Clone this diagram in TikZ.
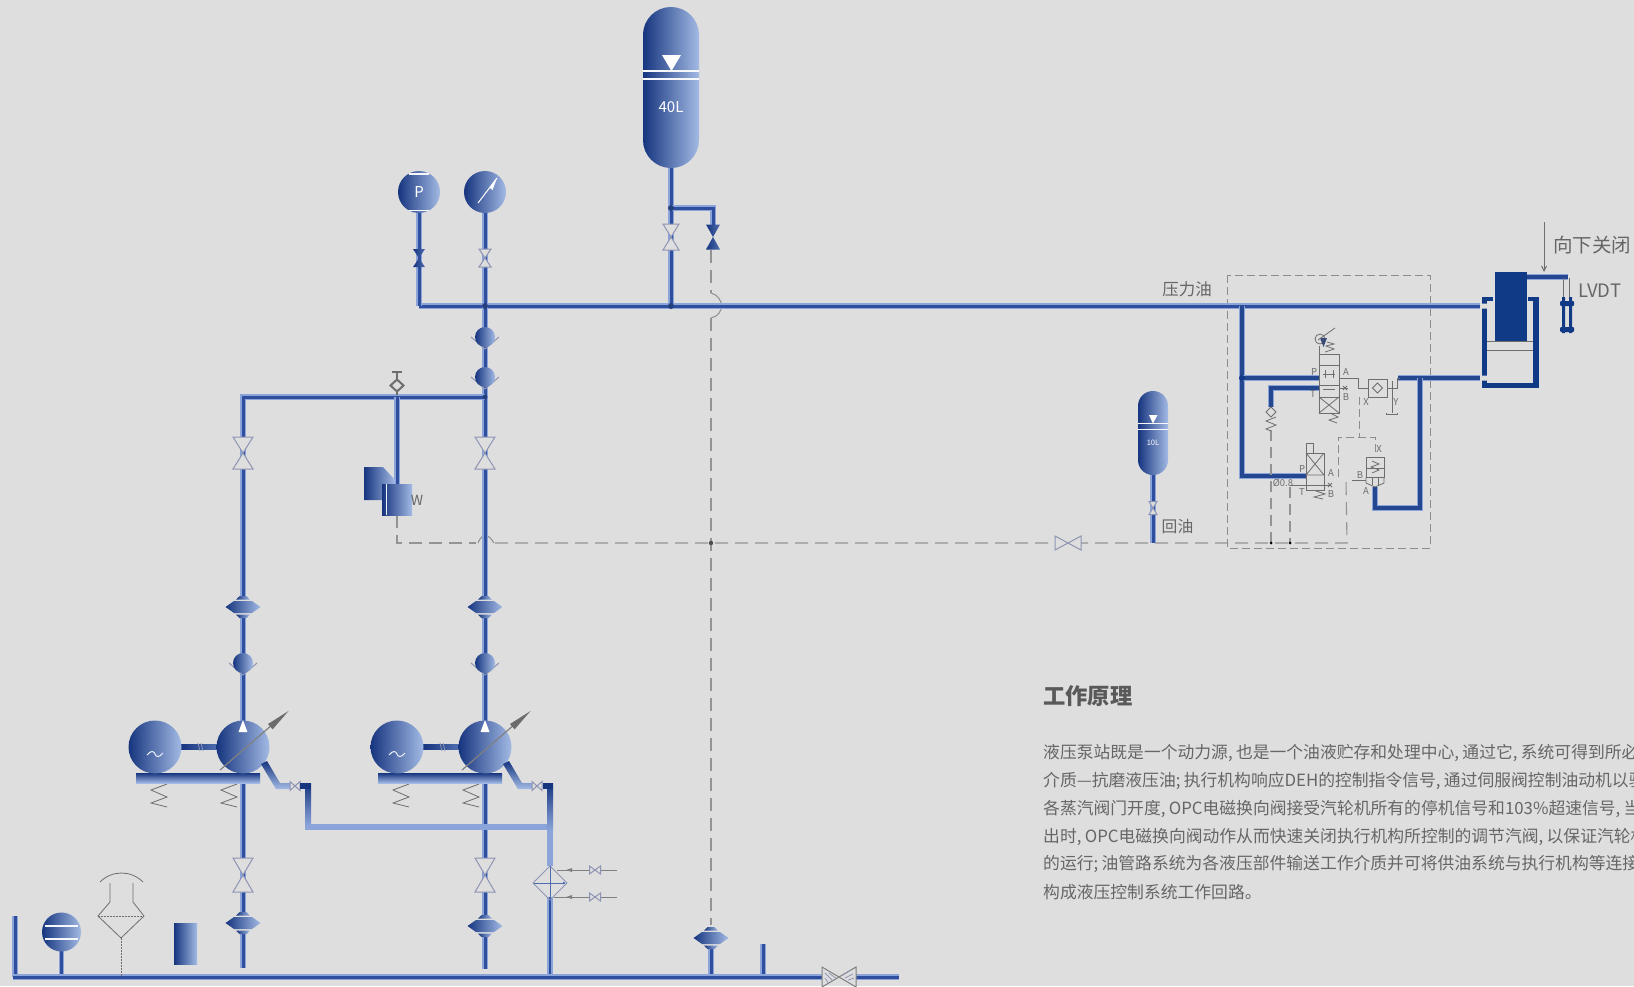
\documentclass[tikz,border=0pt]{standalone}
\usepackage{fontspec}
\usetikzlibrary{arrows.meta,calc}
\newfontfamily\cjk{Noto Sans CJK SC}
\definecolor{bgc}{HTML}{DEDEDE}
\definecolor{gD}{HTML}{16357F}
\definecolor{gM}{HTML}{4F6DAE}
\definecolor{gL}{HTML}{A3BAE4}
\definecolor{pipeD}{HTML}{2F4F9E}
\definecolor{pipeL}{HTML}{8BA4D9}
\definecolor{navy}{HTML}{103A86}
\definecolor{blockP}{HTML}{24478F}
\definecolor{vedge}{HTML}{8E95B4}
\definecolor{thin}{HTML}{6E6E6E}
\definecolor{txt}{HTML}{666666}
\tikzset{
  pipe/.style={preaction={draw=pipeL,line width=5.6pt},draw=pipeD,line width=3pt},
  dark pipe/.style={preaction={draw=pipeL,line width=6pt},draw=blockP,line width=3.6pt},
  dashline/.style={draw=gray!85,line width=1.1pt,dash pattern=on 13pt off 7pt},
  boxdash/.style={draw=gray!90,line width=0.9pt,dash pattern=on 8pt off 4pt},
  fine/.style={draw=thin,line width=0.8pt},
  edge/.style={draw=vedge,line width=1pt,fill=bgc},
  grad/.style={left color=gD,right color=gL},
  vgrad/.style={top color=gD,bottom color=gL},
  lab/.style={font=\cjk\fontsize{9.5}{11}\selectfont,text=thin,inner sep=0pt},
  body/.style={font=\cjk\fontsize{16.8}{20}\selectfont,text=txt,anchor=west,inner sep=0pt},
  side/.style={font=\cjk\fontsize{16.5}{20}\selectfont,text=txt,inner sep=0pt},
}
\newcommand{\cm}{,\hspace{.2em}}
\newcommand{\sm}{;\hspace{.2em}}
% vertical flow valve (hollow)
\newcommand{\valveV}[4]{\draw[edge,shift={(#1,#2)}] (-#3,-#4)--(#3,-#4)--(-#3,#4)--(#3,#4)--cycle;}
% horizontal flow valve (hollow)
\newcommand{\valveH}[4]{\draw[edge,shift={(#1,#2)}] (-#3,-#4)--(-#3,#4)--(#3,-#4)--(#3,#4)--cycle;}
% filled valve
\newcommand{\valveF}[4]{\begin{scope}[shift={(#1,#2)}]
  \shade[left color=gD,right color=gM] (-#3,-#4)--(#3,-#4)--(0,0)--cycle;
  \shade[left color=gD,right color=gM] (-#3,#4)--(#3,#4)--(0,0)--cycle;\end{scope}}
% check valve
\newcommand{\checkV}[2]{\begin{scope}[shift={(#1,#2)}]
  \draw[draw=vedge,line width=1pt] (-14,0)--(0,12)--(14,0);
  \shade[grad] (0,0) circle (10pt);\end{scope}}
% lens meter
\newcommand{\meter}[2]{\begin{scope}[shift={(#1,#2)}]
  \fill[bgc] (-8,-10.5) rectangle (8,10.5);
  \shade[grad] (-3.5,-11)--(3.5,-11)--(7,-7.5)--(-7,-7.5)--cycle;
  \shade[grad] (-17.5,0)--(-9,-6)--(9,-6)--(17.5,0)--(9,6)--(-9,6)--cycle;
  \shade[grad] (-7,7.5)--(7,7.5)--(3.5,11)--(-3.5,11)--cycle;\end{scope}}
% pump group
\newcommand{\pumpset}[2]{\begin{scope}[shift={(#1,#2)}]
  \draw[fine] (-76,37)--(-92,43)--(-76,50)--(-92,56)--(-76,60);
  \draw[fine] (-6,37)--(-22,43)--(-6,50)--(-22,56)--(-6,60);
  \shade[top color=gD,bottom color=gL] (-107,26) rectangle (17,36);
  \shade[left color=gD,right color=gM] (-62,-2.5) rectangle (-26,2.5);
  \draw[fine,draw=vedge] (-45,-4)--(-43,4) (-42,-4)--(-40,4);
  \shade[grad] (-88,0) circle (26.5pt);
  \draw[white!80!gL,line width=1pt] (-96,8) .. controls (-92,3) and (-89,4) .. (-88,7) .. controls (-87,10) and (-84,11) .. (-80,6);
  \shade[grad] (0,0) circle (26.5pt);
  \fill[white] (0,-27)--(4.5,-15)--(-4.5,-15)--cycle;
  \draw[draw=gray,line width=1.2pt] (-23,23)--(30,-23);
  \fill[gray!85!black] (45.5,-36)--(29.6,-17.6)--(25,-23)--cycle;
  \shade[top color=gD,bottom color=gL] (18,17)--(24,14)--(37,36)--(47,36)--(47,42)--(33,42)--cycle;
  \valveH{52}{39}{5}{4.5}
  \end{scope}}
\begin{document}
\begin{tikzpicture}[x=1pt,y=-1pt,line cap=butt]
\useasboundingbox (0,0) rectangle (1634,986);
\fill[bgc] (0,0) rectangle (1634,986);
% junctions
\coordinate (mainL) at (419,306);
\coordinate (mainA) at (485,306);
\coordinate (mainT) at (671,306);
\coordinate (mainB) at (1242,306);
\coordinate (mainR) at (1480,306);
\coordinate (gaugeP) at (419,192);
\coordinate (gaugeD) at (485,192);
\coordinate (tankB) at (671,165);
\coordinate (tankJ) at (671,208);
\coordinate (brR) at (713,208);
\coordinate (brV) at (713,232);
\coordinate (suctR) at (485,397);
\coordinate (suctL) at (243,397);
\coordinate (solT) at (397,397);
\coordinate (solB) at (397,490);
\coordinate (pumpL) at (243,725);
\coordinate (pumpR) at (485,725);
\coordinate (inL) at (243,780);
\coordinate (inR) at (485,780);
\coordinate (botL) at (243,968);
\coordinate (botR) at (485,969);
\coordinate (mainbL) at (13,977);
\coordinate (mainbR) at (899,977);
\coordinate (retJ) at (711,543);
% dashed return lines
\draw[dashline] (397,515)--(397,543)--(476,543);
\draw[dashline] (495,543)--(retJ)--(1347,543)--(1346,480);
\draw[draw=gray!85,line width=1.1pt] (478,543) .. controls (482,533) and (488,533) .. (494,543);
\draw[dashline] (711,250)--(711,293);
\draw[draw=gray!85,line width=1.1pt] (711,293) .. controls (725,297) and (725,315) .. (711,318);
\draw[dashline] (711,318)--(retJ)--(711,925);
\fill[thin!70!black] (retJ) circle (2.2pt);
\draw[boxdash] (1227,275) rectangle (1430,548);
% pipes
\draw[pipe] (mainL)--(mainR);
\draw[pipe] (gaugeP)--(mainL);
\draw[pipe] (gaugeD)--(pumpR);
\draw[pipe] (tankB)--(mainT);
\draw[pipe] (tankJ)--(brR)--(brV);
\draw[pipe] (suctR)--(suctL)--(pumpL);
\draw[pipe] (solT)--(solB);
\draw[pipe] (inL)--(botL);
\draw[pipe] (inR)--(botR);
\draw[pipe] (61.5,950)--(61.5,977);
\draw[pipe] (15,916)--(15,977);
\draw[pipe] (711,945)--(711,977);
\draw[pipe] (763,944)--(763,977);
\draw[pipe] (1153,472)--(1153,543);
\draw[pipe,line width=2.6pt] (550,897)--(550,977);
\draw[pipe] (mainbL)--(mainbR);
\fill[pipeD!80!black] (mainA) circle (3pt) (mainT) circle (3pt) (tankJ) circle (3pt) (suctR) circle (2.5pt);
% outlet lines
\pumpset{243}{747}
\pumpset{485}{747}
\fill[pipeL] (305,824) rectangle (553,830);
\shade[top color=gD,bottom color=pipeL] (305,783) rectangle (311,825);
\fill[gD] (300,783) rectangle (311,789);
\shade[top color=gD,bottom color=pipeL] (547,783) rectangle (553,830);
\fill[gD] (543,783) rectangle (553,789);
\fill[pipeL] (547,830) rectangle (553,866);
% meters, valves
\meter{243}{607}\meter{485}{607}
\meter{243}{923}\meter{485}{926}
\meter{711}{938}
\checkV{485}{337}\checkV{485}{377}
\checkV{243}{663}\checkV{485}{663}
\valveV{243}{453}{10}{16}\valveV{485}{453}{10}{16}
\valveV{243}{875}{10}{17}\valveV{485}{875}{10}{17}
\valveV{485}{258}{6}{9}
\valveV{671}{237}{8}{13}
\valveF{419}{258}{6}{9}
\valveF{713}{237}{7}{12.5}
\valveH{1068}{543}{13}{7}
\valveV{1153}{508}{4}{6.5}
% 40L tank
\shade[grad,rounded corners=27.9pt] (643,7) rectangle (699,168);
\draw[white!90!gL,line width=1.2pt] (643,71)--(699,71) (643,79)--(699,79);
\fill[white] (662,55)--(681,55)--(671.5,71)--cycle;
\node[font=\cjk\fontsize{15}{17}\selectfont,text=white,inner sep=0pt] (t40) at (671,107) {40L};
% 10L tank
\shade[grad,rounded corners=14.9pt] (1138,391) rectangle (1168,475);
\draw[white!90!gL,line width=0.8pt] (1138,423)--(1168,423) (1138,429)--(1168,429);
\fill[white] (1149,415)--(1157.5,415)--(1153,423.5)--cycle;
\node[font=\cjk\fontsize{7.5}{9}\selectfont,text=white,inner sep=0pt] (t10) at (1153,443) {10L};
% gauges
\shade[grad] (gaugeP) circle (21pt);
\draw[white!90!gL,line width=1.1pt] (409,174)--(429,174) (409,210.5)--(429,210.5);
\node[font=\cjk\fontsize{15}{17}\selectfont,text=white,inner sep=0pt] (tp) at (gaugeP) {P};
\shade[grad] (gaugeD) circle (21pt);
\draw[white,line width=1pt] (478,203)--(497,178);
\fill[white] (497,178)--(492.5,190)--(489.5,187.5)--cycle;
% diamond with stem
\draw[draw=thin,line width=1.3pt] (397,372)--(397,380) (392,372)--(402,372) (397,391)--(397,395);
\draw[draw=thin,line width=2pt] (397,379.5)--(403.5,385.5)--(397,391.5)--(390.5,385.5)--cycle;
% W solenoid block
\shade[grad] (364,467)--(383,467)--(395,480)--(395,500)--(364,500)--cycle;
\shade[grad] (382,484) rectangle (412,515);
\draw[draw=white!85!gL,line width=0.8pt] (386,484)--(386,515);
\node[side,font=\cjk\fontsize{14}{16}\selectfont] (tw) at (417,500) {W};
% heat exchanger
\draw[draw=vedge,line width=1pt] (550,866)--(567,883)--(550,900)--(533,883)--cycle;
\draw[draw=gM,line width=0.9pt] (550,866)--(550,900);
\draw[draw=gM,line width=0.8pt,-{Latex[length=3pt,width=3pt]}] (534,883)--(566,883);
\draw[draw=gray,line width=0.9pt] (557,870)--(617,870);
\fill[gray] (566,870)--(572,868)--(572,872)--cycle;
\draw[draw=gray,line width=0.9pt] (553.5,897)--(617,897);
\fill[gray] (566,897)--(572,895)--(572,899)--cycle;
\valveH{595}{870}{5.5}{4}\valveH{595}{897}{5.5}{4}
% ball, filter, box on tank line
\shade[grad] (61.5,932) circle (19.5pt);
\draw[white!90!gL,line width=1.1pt] (45,926)--(78,926) (45,939)--(78,939);
\draw[draw=thin,line width=.8pt] (100,882) .. controls (112,870) and (131,870) .. (143,882);
\draw[draw=thin,line width=.8pt] (110,883)--(110,902)--(98,916)--(121,938)--(144,916)--(133,902)--(133,883);
\draw[draw=thin,line width=.8pt,dash pattern=on 2pt off 1pt] (98,916)--(144,916) (121,938)--(121,977);
\shade[grad] (174,923) rectangle (197,964);
% bottom valve with hatch
\begin{scope}[shift={(839,977)}]
  \fill[bgc] (-17,-10) rectangle (17,9);
  \draw[edge,draw=gray] (-17,-10)--(-17,10)--(17,-10)--(17,10)--cycle;
  \draw[draw=vedge,line width=.8pt] (-14,-4)--(-6,4) (-14,1)--(-10,7) (-10,-4)--(-2,2) (4,-2)--(12,-7) (6,1)--(14,-3) (9,3)--(15,1);
\end{scope}
% labels
\node[side] (pt) at (1187,289) {压力油};
\node[side,font=\cjk\fontsize{15.8}{20}\selectfont] (hy) at (1177.5,526) {回油};
\node[side,font=\cjk\fontsize{19.5}{22}\selectfont] (xx) at (1592,245) {向下关闭};
\node[side,font=\cjk\fontsize{18.5}{22}\selectfont] (lvdt) at (1600,291) {LVDT};
\coordinate (arrS) at (1544,222);
\coordinate (arrE) at (1544,272);
\draw[draw=thin,line width=1pt,-{Straight Barb[length=5pt,width=5pt]}] (arrS)--(arrE);
% cylinder
\fill[navy] (1482,297) rectangle (1493,301);
\fill[navy] (1482,297) rectangle (1487,388);
\fill[navy] (1482,383) rectangle (1539,388);
\fill[navy] (1533,297) rectangle (1539,388);
\fill[navy] (1528,297) rectangle (1539,301);
\fill[navy] (1495,272) rectangle (1527,341);
\draw[draw=thin,line width=.8pt] (1487,341)--(1533,341) (1487,350)--(1533,350);
\fill[bgc] (1482,303.5) rectangle (1487,308.5) (1482,375.5) rectangle (1487,380.5);
% LVDT
\draw[dark pipe] (1527,277)--(1568,277);
\draw[draw=thin,line width=.8pt] (1563,278)--(1563,298) (1569,278)--(1569,298);
\fill[navy] (1562,297) rectangle (1565,333) (1569,297) rectangle (1572,333);
\fill[navy,rounded corners=1pt] (1560,301) rectangle (1574,306) (1560,327) rectangle (1574,332);
% block pipes
\coordinate (bJ) at (1242,378);
\coordinate (bL) at (1242,476);
\draw[dark pipe] (mainB)--(bL)--(1306,476);
\draw[dark pipe] (bJ)--(1319,378);
\draw[dark pipe] (1319,388)--(1271,388)--(1271,407);
\draw[dark pipe] (1398,378)--(1480,378);
\draw[dark pipe] (1420,378)--(1420,508)--(1375,508)--(1375,487);
\fill[navy] (1242,378) circle (3pt);
% return dashes inside block
\draw[dashline,dash pattern=on 11pt off 6pt] (1271,430)--(1271,543);
\draw[dashline,dash pattern=on 11pt off 6pt] (1290,487)--(1290,543);
\fill[thin] (1271,543) circle (1.5pt) (1290,543) circle (1.5pt);
\draw[boxdash] (1359,397)--(1359,437);
\draw[boxdash] (1338,477)--(1338,437)--(1375,437)--(1375,455);
% check + spring on T line
\draw[fine,line width=1pt] (1271,407)--(1276,412)--(1271,417)--(1266,412)--cycle;
\draw[fine] (1276,417)--(1266,421)--(1276,425)--(1266,429)--(1271,431);
% main directional valve
\draw[fine,fill=bgc] (1319,354) rectangle (1339,413);
\draw[fine] (1319,365)--(1339,365) (1319,385)--(1339,385) (1319,397)--(1339,397);
\draw[fine] (1319,397)--(1339,413) (1339,397)--(1319,413);
\draw[fine] (1323,374)--(1335,374) (1323,389)--(1335,389) (1325,370)--(1325,378) (1333,370)--(1333,378);
\draw[fine] (1325,352)--(1334,349)--(1326,346)--(1334,344)--(1327,342);
\draw[fine] (1330,413)--(1338,417)--(1329,420)--(1337,423);
\draw[fine] (1319,354)--(1319,346);
\draw[fine] (1320,339) circle (5pt);
\fill[gD!60!thin] (1320,338)--(1327,338)--(1323.5,347)--cycle;
\draw[fine] (1318,340)--(1335,328);
\node[lab] (lP1) at (1314,372) {P};
\node[lab] (lA1) at (1346,372) {A};
\node[lab] (lT1) at (1313,394) {T};
\node[lab] (lB1) at (1346,397) {B};
\draw[fine] (1339,378)--(1358,378)--(1358,388)--(1368,388);
\draw[fine] (1339,388)--(1348,388);
\draw[fine] (1343,386)--(1347,390) (1347,386)--(1343,390);
% shuttle
\draw[fine,fill=bgc] (1368,379) rectangle (1387,397);
\draw[fine,line width=1pt] (1377.5,383)--(1382.5,388)--(1377.5,393)--(1372.5,388)--cycle;
\draw[fine] (1387,388)--(1397,388)--(1397,378)--(1400,378);
\draw[fine] (1392,381)--(1392,413) (1386,413)--(1386,414.5)--(1397,414.5)--(1397,413);
\node[lab] (lX1) at (1366,402) {X};
\node[lab] (lY1) at (1396,402) {Y};
% lower solenoid valve
\draw[fine,fill=bgc] (1306,453) rectangle (1324,490);
\draw[fine] (1306,475)--(1324,475) (1306,453)--(1324,475) (1324,453)--(1306,475);
\draw[fine] (1306,453)--(1306,443)--(1313,443)--(1313,453);
\draw[fine] (1290,485)--(1330,485);
\draw[fine] (1328,483)--(1332,487) (1332,483)--(1328,487);
\draw[fine] (1316,491)--(1325,494)--(1314,497)--(1323,499);
\node[lab] (lP2) at (1302,469) {P};
\node[lab] (lA2) at (1331,473) {A};
\node[lab] (lT2) at (1302,492) {T};
\node[lab] (lB2) at (1331,494) {B};
\node[lab] (lO) at (1283,483) {Ø0.8};
% logic valve
\draw[fine,fill=bgc] (1366,457) rectangle (1384,477);
\draw[fine] (1366,468)--(1384,468);
\draw[fine] (1372,461)--(1379,464)--(1371,467)--(1379,470)--(1372,473);
\draw[fine] (1366,477)--(1366,483)--(1375,487)--(1384,483)--(1384,477);
\draw[fine] (1372,477)--(1372,485) (1378,477)--(1378,485);
\draw[fine] (1352,480)--(1366,480);
\node[lab] (lX2) at (1379,449) {X};
\node[lab] (lB3) at (1360,475) {B};
\node[lab] (lA3) at (1366,491) {A};
% text
\node[font=\cjk\bfseries\fontsize{22.3}{24}\selectfont,text=black!65,anchor=west,inner sep=0pt] (title) at (1043,696) {工作原理};
\node[body] (l1) at (1043,753) {液压泵站既是一个动力源\cm 也是一个油液贮存和处理中心\cm 通过它\cm 系统可得到所必};
\node[body] (l2) at (1043,781) {介质—抗磨液压油\sm 执行机构响应DEH的控制指令信号\cm 通过伺服阀控制油动机以驱};
\node[body] (l3) at (1043,809) {各蒸汽阀门开度\cm OPC电磁换向阀接受汽轮机所有的停机信号和103\%超速信号\cm 当};
\node[body] (l4) at (1043,837) {出时\cm OPC电磁换向阀动作从而快速关闭执行机构所控制的调节汽阀\cm 以保证汽轮机};
\node[body] (l5) at (1043,864) {的运行\sm 油管路系统为各液压部件输送工作介质并可将供油系统与执行机构等连接};
\node[body] (l6) at (1043,892) {构成液压控制系统工作回路。};
\end{tikzpicture}
\end{document}
